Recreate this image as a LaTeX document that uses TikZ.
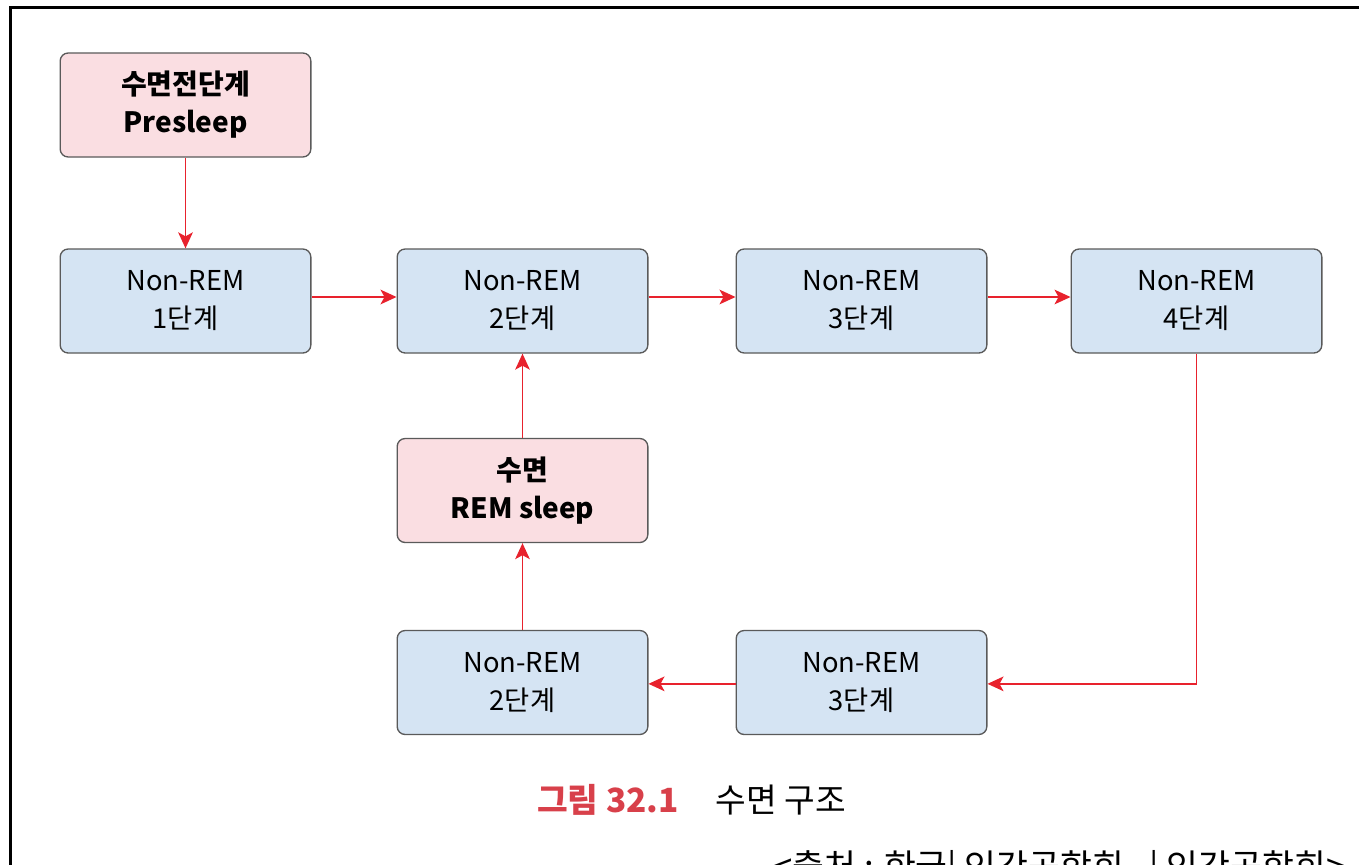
\documentclass[tikz,border=0pt]{standalone}
\usepackage{fontspec}
\setmainfont{Noto Sans CJK KR}
\usetikzlibrary{arrows.meta}
\definecolor{pinkfill}{HTML}{FADEE2}
\definecolor{bluefill}{HTML}{D5E4F3}
\definecolor{boxline}{HTML}{5A5A5A}
\definecolor{arrowred}{HTML}{E8222D}
\definecolor{capred}{HTML}{D8404A}
\begin{document}
\begin{tikzpicture}[x=0.75pt,y=-0.75pt,
  stagebox/.style={rectangle, rounded corners=6pt, draw=boxline, line width=1pt,
    minimum width=188pt, minimum height=78pt, inner sep=0pt, align=center,
    font=\fontsize{20.5}{28.5}\selectfont},
  bluebox/.style={stagebox, fill=bluefill},
  pinkbox/.style={stagebox, fill=pinkfill, font=\fontsize{21}{28.5}\selectfont\bfseries},
  flow/.style={draw=arrowred, line width=1.1pt, -{Stealth[length=12pt,width=11pt,inset=3pt]}}]
\clip (0,0) rectangle (1359,864);
\fill[white] (0,0) rectangle (1359,864);
\draw[line width=1.6pt] (10.5,900) -- (10.5,7.5) -- (1400,7.5);

\node[pinkbox] (pre) at (185.5,105) {수면전단계\\Presleep};
\node[bluebox] (n1) at (185.5,301) {Non-REM\\1단계};
\node[bluebox] (n2) at (522.5,301) {Non-REM\\2단계};
\node[bluebox] (n3) at (861.5,301) {Non-REM\\3단계};
\node[bluebox] (n4) at (1196.5,301) {Non-REM\\4단계};
\node[pinkbox] (rem) at (522.5,490.5) {수면\\REM sleep};
\node[bluebox] (b2) at (522.5,682.5) {Non-REM\\2단계};
\node[bluebox] (b3) at (861.5,682.5) {Non-REM\\3단계};

\draw[flow] (pre) -- (n1);
\draw[flow] ([yshift=3pt]n1.east) -- ([yshift=3pt]n2.west);
\draw[flow] ([yshift=3pt]n2.east) -- ([yshift=3pt]n3.west);
\draw[flow] ([yshift=3pt]n3.east) -- ([yshift=3pt]n4.west);
\draw[flow] (n4.south) |- ([yshift=-1pt]b3.east);
\draw[flow] ([yshift=-1pt]b3.west) -- ([yshift=-1pt]b2.east);
\draw[flow] (b2) -- (rem);
\draw[flow] (rem) -- (n2);

\node[anchor=center, text=capred, font=\fontsize{25}{28}\selectfont\bfseries] (capnum) at (608,800) {그림 32.1};
\node[anchor=center, font=\fontsize{25}{28}\selectfont] (captxt) at (781,800) {수면 구조};
\node[anchor=west, inner sep=0pt, font=\fontsize{26}{30}\selectfont] (src) at (773,870) {<출처 : 한국| 인간공학회 , | 인간공학회>};
\end{tikzpicture}
\end{document}
